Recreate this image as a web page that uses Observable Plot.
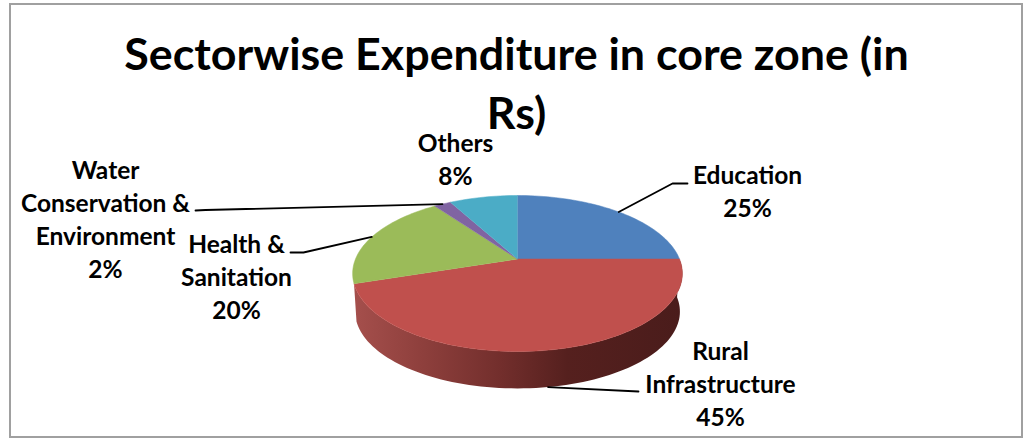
<!DOCTYPE html>
<html>
<head>
<meta charset="utf-8">
<script src="https://cdn.jsdelivr.net/npm/d3@7"></script>
<script src="https://cdn.jsdelivr.net/npm/@observablehq/plot@0.6"></script>
<style>html,body{margin:0;padding:0;background:#fff}svg{display:block}</style>
</head>
<body>
<div id="chart"></div>
<script>
// Data
const sectors = ["Education", "Rural Infrastructure", "Health & Sanitation", "Water Conservation & Environment", "Others"];
const shares = [25, 45, 20, 2, 8];
const colors = ["#4f81bd", "#c0504d", "#9bbb59", "#8064a2", "#4bacc6"];
const labelLines = [
  "Education\n25%",
  "Rural\nInfrastructure\n45%",
  "Health &\nSanitation\n20%",
  "Water\nConservation &\nEnvironment\n2%",
  "Others\n8%"
];
const titleLines = ["Sectorwise Expenditure in core zone (in", "Rs)"];

// Layout
const font = "Lato, 'Open Sans', sans-serif";
const labelX = [747, 720, 236, 105, 455];
const labelY = [189, 382, 275, 217, 157];
const titleY = [55, 114];
const cx = 517, cy = 258.5, a = 162, b = 75.3, k = 0.186;
const depth = 38.3, baseScale = 0.985;

// Perspective projection of a pie rim at a cumulative share (0-100)
function rim(share, scale = 1, dy = 0) {
  const t = share / 100 * 2 * Math.PI;
  const u = Math.sin(t), v = Math.cos(t), w = 1 + k * v;
  return [cx + scale * a * u / w, cy + dy - scale * b * v / w];
}
function arc(from, to, scale, dy) {
  const n = Math.max(2, Math.ceil((to - from) * 2));
  return d3.range(n + 1).map(i => rim(from + (to - from) * i / n, scale, dy));
}

const ends = d3.cumsum(shares);
const starts = ends.map((e, i) => e - shares[i]);
const mids = ends.map((e, i) => e - shares[i] / 2);

// Top-face slices
const slices = sectors.flatMap((s, i) =>
  [[cx, cy], ...arc(starts[i], ends[i], 1, 0)].map(([x, y]) => ({sector: s, x, y})));

// Front wall of the largest slice
const wall = [...arc(starts[1], ends[1], 1, 0), ...arc(starts[1], ends[1], baseScale, depth).reverse()]
  .map(([x, y]) => ({x, y}));

// Leader lines start at each slice's mid-angle on the rim
const leaderEnds = [[[672, 183], [687, 183]], [[638, 391]], [[303, 252], [290, 252]], [[205, 209.5], [195, 210]], []];
const leaders = sectors.flatMap((s, i) => {
  if (!leaderEnds[i].length) return [];
  const start = i === 1 ? rim(mids[i], baseScale, depth) : rim(mids[i]);
  return [start, ...leaderEnds[i]].map(([x, y]) => ({sector: s, x, y}));
});

const wallGradient = () => {
  const svg = d3.create("svg:g");
  const g = svg.append("defs").append("linearGradient").attr("id", "wallFill");
  [[0, "#a54f4c"], [0.2, "#8f403d"], [0.45, "#722e2c"], [0.65, "#55201e"], [1, "#4a1c1b"]]
    .forEach(([o, c]) => g.append("stop").attr("offset", o).attr("stop-color", c));
  return svg.node();
};

const chart = Plot.plot({
  width: 1034,
  height: 438,
  margin: 0,
  x: {domain: [0, 1034], range: [0, 1034], axis: null},
  y: {domain: [0, 438], range: [0, 438], axis: null},
  color: {domain: sectors, range: colors},
  style: {background: "#fff"},
  marks: [
    wallGradient,
    Plot.rect([0], {x1: 10, x2: 1022, y1: 4, y2: 437, fill: "none", stroke: "#a0a0a0", strokeWidth: 2}),
    Plot.line(wall, {x: "x", y: "y", fill: "url(#wallFill)", stroke: "none"}),
    Plot.line(slices, {x: "x", y: "y", z: "sector", fill: "sector", stroke: "sector", strokeWidth: 0.5}),
    Plot.line(leaders, {x: "x", y: "y", z: "sector", stroke: "#000", strokeWidth: 1.8, curve: "linear"}),
    Plot.text(titleLines, {
      x: () => 516, y: (d, i) => titleY[i], text: d => d,
      fontFamily: font, fontWeight: 700, fontSize: 44.8, fill: "#000"
    }),
    Plot.text(labelLines, {
      x: (d, i) => labelX[i], y: (d, i) => labelY[i], text: d => d,
      fontFamily: font, fontWeight: 700, fontSize: 24.5, lineHeight: 1.347, fill: "#000"
    })
  ]
});
document.getElementById("chart").append(chart);
</script>
</body>
</html>
